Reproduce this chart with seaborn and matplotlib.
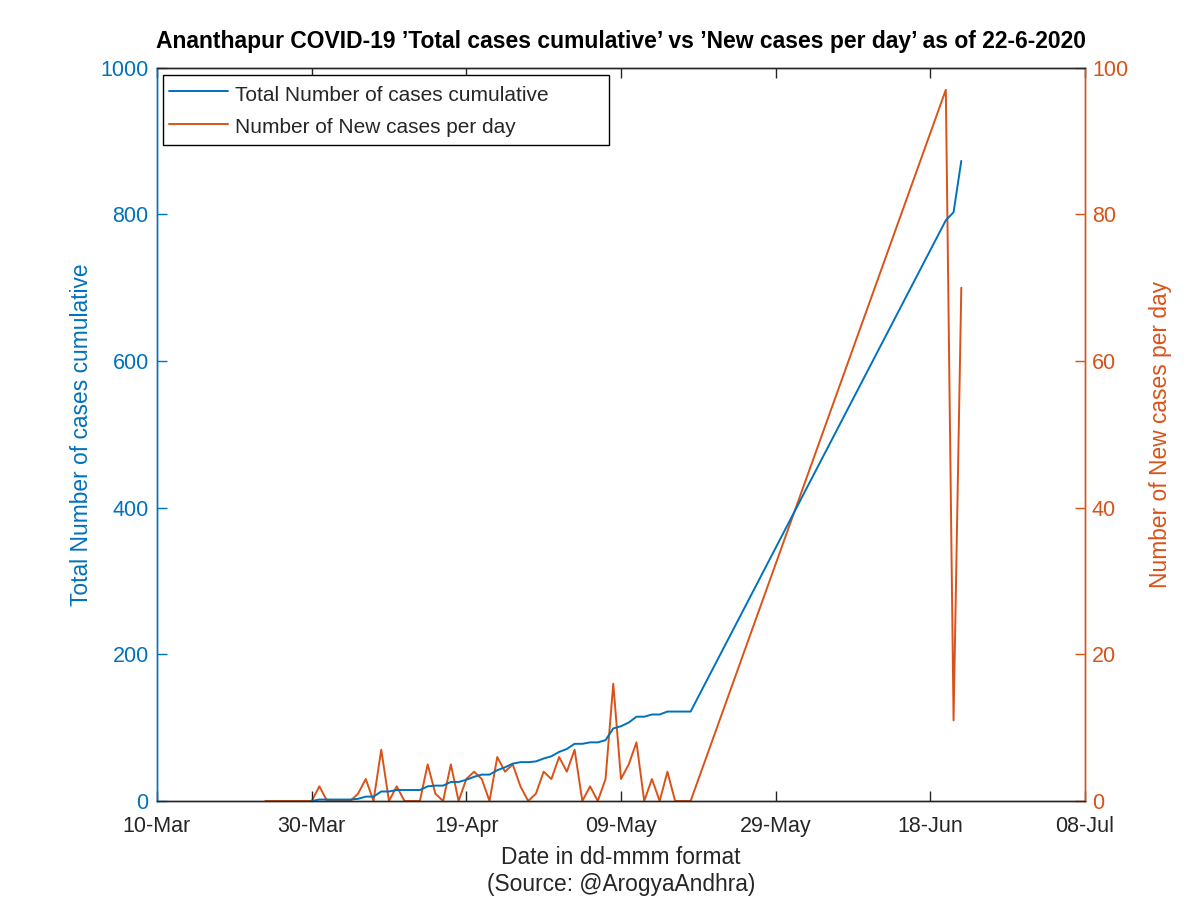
import numpy as np
import pandas as pd
import matplotlib
matplotlib.use("Agg")
import matplotlib.pyplot as plt
import matplotlib.dates as mdates
import seaborn as sns

# ---------------- data ----------------
dates = [
    "2020-03-24", "2020-03-25", "2020-03-26", "2020-03-27", "2020-03-28", "2020-03-29",
    "2020-03-30", "2020-03-31", "2020-04-01", "2020-04-02", "2020-04-03", "2020-04-04",
    "2020-04-05", "2020-04-06", "2020-04-07", "2020-04-08", "2020-04-09", "2020-04-10",
    "2020-04-11", "2020-04-12", "2020-04-13", "2020-04-14", "2020-04-15", "2020-04-16",
    "2020-04-17", "2020-04-18", "2020-04-19", "2020-04-20", "2020-04-21", "2020-04-22",
    "2020-04-23", "2020-04-24", "2020-04-25", "2020-04-26", "2020-04-27", "2020-04-28",
    "2020-04-29", "2020-04-30", "2020-05-01", "2020-05-02", "2020-05-03", "2020-05-04",
    "2020-05-05", "2020-05-06", "2020-05-07", "2020-05-08", "2020-05-09", "2020-05-10",
    "2020-05-11", "2020-05-12", "2020-05-13", "2020-05-14", "2020-05-15", "2020-05-16",
    "2020-05-17", "2020-05-18", "2020-06-20", "2020-06-21", "2020-06-22",
]
new_cases = [
    0, 0, 0, 0, 0, 0,
    0, 2, 0, 0, 0, 0,
    1, 3, 0, 7, 0, 2,
    0, 0, 0, 5, 1, 0,
    5, 0, 3, 4, 3, 0,
    6, 4, 5, 2, 0, 1,
    4, 3, 6, 4, 7, 0,
    2, 0, 3, 16, 3, 5,
    8, 0, 3, 0, 4, 0,
    0, 0, 97, 11, 70,
]
total_cases = [
    np.nan, np.nan, np.nan, np.nan, np.nan, np.nan,
    0, 2, 2, 2, 2, 2,
    3, 6, 6, 13, 13, 15,
    15, 15, 15, 20, 21, 21,
    26, 26, 29, 33, 36, 36,
    42, 46, 51, 53, 53, 54,
    58, 61, 67, 71, 78, 78,
    80, 80, 83, 99, 102, 107,
    115, 115, 118, 118, 122, 122,
    122, 122, 792, 803, 873,
]
x_ticks = ["2020-03-10", "2020-03-30", "2020-04-19", "2020-05-09",
           "2020-05-29", "2020-06-18", "2020-07-08"]

title = "Ananthapur COVID-19 \u2019Total cases cumulative\u2019 vs \u2019New cases per day\u2019 as of 22-6-2020"
label_total = "Total Number of cases cumulative"
label_new = "Number of New cases per day"

# ---------------- style ----------------
BLUE = "#0072BD"
ORANGE = "#D95319"
DARK = "#262626"

sns.set_style("white")
plt.rcParams["font.family"] = ["Liberation Sans", "DejaVu Sans"]

df_new = pd.DataFrame({"date": pd.to_datetime(dates), "value": new_cases})
df_tot = pd.DataFrame({"date": pd.to_datetime(dates), "value": total_cases}).dropna()

fig = plt.figure(figsize=(12, 8.98), dpi=100)
ax = fig.add_axes([0.1308, 0.108, 0.7734, 0.8165])
ax2 = ax.twinx()

sns.lineplot(data=df_tot, x="date", y="value", ax=ax, color=BLUE, lw=1.4,
             label=label_total, legend=False)
sns.lineplot(data=df_new, x="date", y="value", ax=ax2, color=ORANGE, lw=1.4,
             label=label_new, legend=False)

# put the blue axis on top
ax.set_zorder(ax2.get_zorder() + 1)
ax.patch.set_visible(False)

ax.set_xlim(pd.Timestamp("2020-03-10"), pd.Timestamp("2020-07-08"))
ax.set_ylim(0, 1000)
ax2.set_ylim(0, 100)
ax.set_yticks(np.arange(0, 1001, 200))
ax2.set_yticks(np.arange(0, 101, 20))
ax.set_xticks(pd.to_datetime(x_ticks))
ax.xaxis.set_major_formatter(mdates.DateFormatter("%d-%b"))

ax.set_xlabel("Date in dd-mmm format\n(Source: @ArogyaAndhra)", fontsize=16.4,
              color=DARK, labelpad=6, linespacing=1.25)
ax.set_ylabel(label_total, fontsize=16.4, color=BLUE, labelpad=5)
ax2.set_ylabel(label_new, fontsize=16.4, color=ORANGE, labelpad=15)
ax.set_title(title, fontsize=16.5, fontweight="bold", pad=14, color="black")

for a in (ax, ax2):
    for s in a.spines.values():
        s.set_visible(True)
        s.set_linewidth(1.0)
        s.set_color(DARK)
ax.spines["left"].set_color(BLUE)
ax2.spines["left"].set_color(BLUE)
ax.spines["right"].set_color(ORANGE)
ax2.spines["right"].set_color(ORANGE)

ax.tick_params(axis="x", direction="in", length=7, width=1, colors=DARK,
               labelsize=15.5, top=True, bottom=True, pad=11)
ax.tick_params(axis="y", direction="in", length=7, width=1, colors=BLUE,
               labelsize=15.5, left=True, right=False, pad=6)
ax2.tick_params(axis="y", direction="in", length=7, width=1, colors=ORANGE,
                labelsize=15.5, right=True, left=False, pad=5)

h1, l1 = ax.get_legend_handles_labels()
h2, l2 = ax2.get_legend_handles_labels()
leg = ax.legend(h1 + h2, l1 + l2, loc="upper left", fontsize=15,
                bbox_to_anchor=(0.0065, 0.9905, 0.4806, 0), mode="expand",
                frameon=True, fancybox=False, framealpha=1, edgecolor="black",
                borderaxespad=0.0, handlelength=2.8, handletextpad=0.35,
                handleheight=1.5, borderpad=0.3, labelspacing=0.35)
leg.get_frame().set_linewidth(1.0)

fig.savefig("out.png", dpi=100)
